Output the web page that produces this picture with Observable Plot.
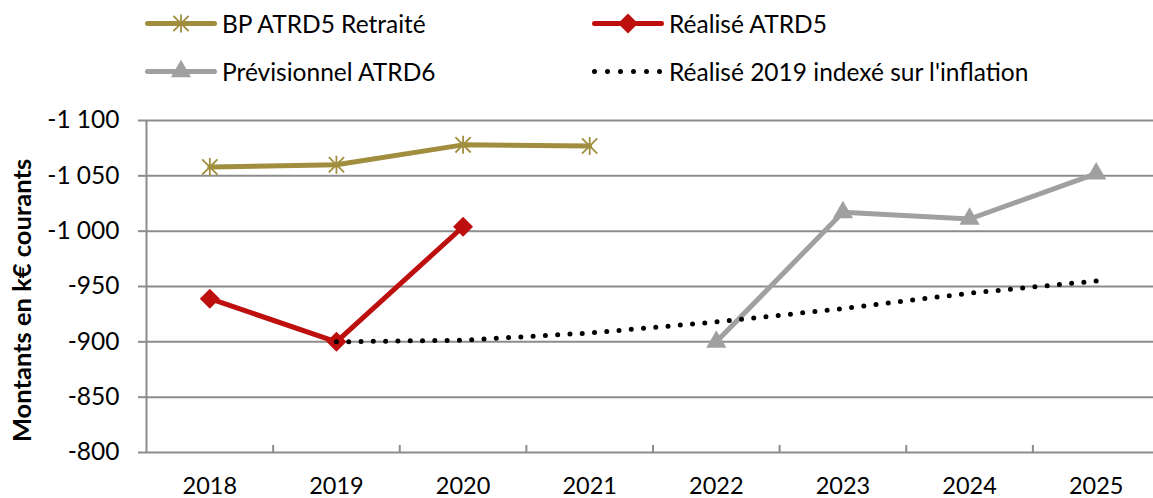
<!DOCTYPE html>
<html><head><meta charset="utf-8">
<script src="https://cdn.jsdelivr.net/npm/d3@7"></script>
<script src="https://cdn.jsdelivr.net/npm/@observablehq/plot@0.6"></script>
<style>
body{margin:0;background:#fff;font-family:Lato, sans-serif;}
#wrap{position:relative;width:1153px;height:498px;overflow:hidden;background:#fff;}
#legend{position:absolute;left:0;top:0;width:1153px;height:100px;}
.item{position:absolute;display:flex;align-items:center;font-size:24.5px;color:#000;white-space:nowrap;transform:translateY(-50%);}
.item svg{display:block;margin-right:5px;}
#chart{position:absolute;left:0;top:100px;}
</style></head><body>
<div id="wrap"><div id="legend"></div><div id="chart"></div></div>
<script>
// ---- data ----
const years = [2018, 2019, 2020, 2021, 2022, 2023, 2024, 2025];
const bpYears = [2018, 2019, 2020, 2021];
const bpValues = [-1058, -1060, -1078, -1077];
const realYears = [2018, 2019, 2020];
const realValues = [-939, -900, -1004];
const prevYears = [2022, 2023, 2024, 2025];
const prevValues = [-900, -1017, -1011, -1052];
const inflYears = [2019, 2020, 2021, 2022, 2023, 2024, 2025];
const inflValues = [-900, -901.5, -908, -918, -930, -944, -955];
const yTicks = [-1100, -1050, -1000, -950, -900, -850, -800];
const seriesNames = ["BP ATRD5 Retraité", "Réalisé ATRD5", "Prévisionnel ATRD6", "Réalisé 2019 indexé sur l'inflation"];
const yTitle = "Montants en k€ courants";

// ---- styles ----
const GOLD = "#A08E3E", RED = "#BE0F0F", GRAY = "#A0A0A0", GRID = "#8C8C8C";
const starSymbol = {draw(ctx, size) {
  const r = Math.sqrt(size / Math.PI), d = r * 0.85;
  ctx.moveTo(0, -r); ctx.lineTo(0, r);
  ctx.moveTo(-d, -d); ctx.lineTo(d, d);
  ctx.moveTo(-d, d); ctx.lineTo(d, -d);
}};

const zip = (xs, vs) => xs.map((x, i) => ({x, y: vs[i]}));
const bp = zip(bpYears, bpValues);
const real = zip(realYears, realValues);
const prev = zip(prevYears, prevValues);
const infl = zip(inflYears, inflValues);

const bounds = [...years.map(y => y - 0.5), years[years.length - 1] + 0.5];
const inner = bounds.slice(1, -1);

const fr = d3.formatLocale({decimal: ",", thousands: " ", grouping: [3], currency: ["", "€"], minus: "-"});
const fmt = fr.format(",");

const chart = Plot.plot({
  width: 1153, height: 398,
  marginLeft: 146, marginRight: 0, marginTop: 20, marginBottom: 46,
  style: {fontFamily: "Lato, sans-serif", fontSize: "23px", color: "#000", background: "transparent", overflow: "visible"},
  x: {type: "linear", domain: [bounds[0], bounds[bounds.length - 1]], range: [146, 1159]},
  y: {domain: [yTicks[0], yTicks[yTicks.length - 1]], range: [20, 352]},
  marks: [
    Plot.ruleY(yTicks.slice(0, -1), {stroke: GRID, strokeWidth: 2}),
    Plot.ruleY([yTicks[yTicks.length - 1]], {stroke: GRID, strokeWidth: 2}),
    Plot.ruleX([bounds[0]], {stroke: GRID, strokeWidth: 2}),
    Plot.axisY({ticks: yTicks, tickSize: 8, tickPadding: 19, tickFormat: fmt, stroke: GRID, strokeWidth: 2, strokeOpacity: 1, label: null, fontSize: 24.5}),
    Plot.axisX({ticks: inner, tickSize: 7, dy: -7, tickFormat: () => "", stroke: GRID, strokeWidth: 2, strokeOpacity: 1, label: null}),
    Plot.axisX({ticks: years, tickSize: 0, tickPadding: 25, tickFormat: d => String(d), label: null, fontSize: 23.5}),
    Plot.text([yTitle], {frameAnchor: "left", textAnchor: "middle", rotate: -90, dx: -124, dy: 14, fontWeight: "bold", fontSize: 25.5, fill: "#000"}),
    Plot.line(bp, {x: "x", y: "y", stroke: GOLD, strokeWidth: 5}),
    Plot.dot(bp, {x: "x", y: "y", symbol: starSymbol, r: 9, stroke: GOLD, strokeWidth: 1.8, fill: "none"}),
    Plot.line(real, {x: "x", y: "y", stroke: RED, strokeWidth: 5}),
    Plot.dot(real, {x: "x", y: "y", symbol: "diamond2", r: 9, fill: RED, stroke: "none"}),
    Plot.line(prev, {x: "x", y: "y", stroke: GRAY, strokeWidth: 5}),
    Plot.dot(prev, {x: "x", y: "y", symbol: "triangle", r: 7.5, fill: GRAY, stroke: "none"}),
    Plot.line(infl, {x: "x", y: "y", stroke: "#000", strokeWidth: 5, strokeDasharray: "0 12.3", strokeLinecap: "round"})
  ]
});
document.getElementById("chart").appendChild(chart);

// ---- legend ----
const legendItems = [
  {name: seriesNames[0], color: GOLD, kind: "star", left: 145, top: 23},
  {name: seriesNames[1], color: RED, kind: "diamond", left: 592, top: 23},
  {name: seriesNames[2], color: GRAY, kind: "triangle", left: 145, top: 71},
  {name: seriesNames[3], color: "#000", kind: "dots", left: 592, top: 71}
];
const legend = d3.select("#legend");
for (const it of legendItems) {
  const div = legend.append("div").attr("class", "item").style("left", it.left + "px").style("top", it.top + "px");
  const w = 72, h = 24;
  const svg = div.append("svg").attr("width", w).attr("height", h);
  if (it.kind === "dots") {
    svg.append("line").attr("x1", 2.5).attr("x2", 68).attr("y1", h / 2).attr("y2", h / 2)
      .attr("stroke", "#000").attr("stroke-width", 5).attr("stroke-linecap", "round").attr("stroke-dasharray", "0 13");
  } else {
    svg.append("line").attr("x1", 2.5).attr("x2", w - 2.5).attr("y1", h / 2).attr("y2", h / 2)
      .attr("stroke", it.color).attr("stroke-width", 5).attr("stroke-linecap", "round");
    let sym;
    if (it.kind === "star") sym = d3.symbol(starSymbol, Math.PI * 81);
    if (it.kind === "diamond") sym = d3.symbol(d3.symbolDiamond2, Math.PI * 81);
    if (it.kind === "triangle") sym = d3.symbol(d3.symbolTriangle, Math.PI * 7.5 * 7.5);
    const p = svg.append("path").attr("d", sym()).attr("transform", `translate(${w / 2},${h / 2})`);
    if (it.kind === "star") p.attr("fill", "none").attr("stroke", it.color).attr("stroke-width", 1.8);
    else p.attr("fill", it.color);
  }
  div.append("span").text(it.name);
}
</script>
</body></html>
